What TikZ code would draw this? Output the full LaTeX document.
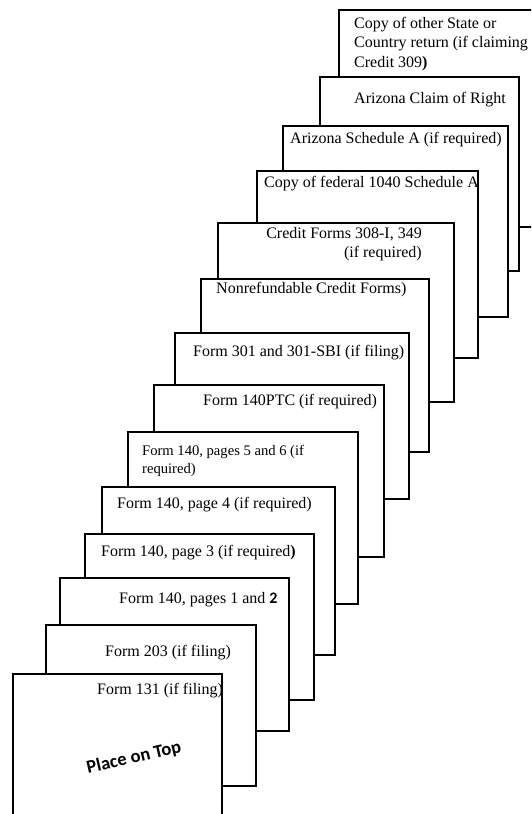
\documentclass[tikz,border=0pt]{standalone}
\usepackage{fontspec}
\setmainfont{Liberation Serif}
\newfontfamily\carlito{Carlito}
\begin{document}
\begin{tikzpicture}[x=1pt,y=-1pt,
  card/.style={draw=black,line width=1.2pt,fill=white},
  lbl/.style={inner sep=0pt,font=\fontsize{16}{19.5}\selectfont}]
\useasboundingbox (0,0) rectangle (531,814);
\clip (0,0) rectangle (531,814);
% cards from back to front
\draw[card] (339,10) rectangle (545,227);
\node[lbl,anchor=north west,align=left] (t1) at (354,17) {Copy of other State or\\Country return (if claiming\\Credit 309\textbf{)}};
\draw[card] (320,77) rectangle (519,271);
\node[lbl,anchor=west] (t2) at (354,100) {Arizona Claim of Right};
\draw[card] (283,126) rectangle (508,317);
\node[lbl,anchor=west] (t3) at (290,140) {Arizona Schedule A (if required)};
\draw[card] (257,171) rectangle (478,358);
\node[lbl,anchor=west] (t4) at (264,184) {Copy of federal 1040 Schedule A};
\draw[card] (218,223) rectangle (454,402);
\node[lbl,anchor=north east,align=right] (t5) at (422,227) {Credit Forms 308-I, 349\\(if required)};
\draw[card] (201,279) rectangle (429,452);
\node[lbl,anchor=west] (t6) at (216,290) {Nonrefundable Credit Forms)};
\draw[card] (175,333) rectangle (409,499);
\node[lbl,anchor=west] (t7) at (193,353) {Form 301 and 301-SBI (if filing)};
\draw[card] (154,385) rectangle (384,557);
\node[lbl,anchor=west] (t8) at (203,402) {Form 140PTC (if required)};
\draw[card] (128,432) rectangle (358,604);
\node[inner sep=0pt,font=\fontsize{14.6}{18}\selectfont,anchor=north west,align=left] (t9) at (142,445.5) {Form 140, pages 5 and 6 (if\\required)};
\draw[card] (102,487) rectangle (335,655);
\node[lbl,anchor=west] (t10) at (117,505) {Form 140, page 4 (if required)};
\draw[card] (85,534) rectangle (314,700);
\node[lbl,anchor=west] (t11) at (101,553) {Form 140, page 3 (if required\textbf{)}};
\draw[card] (60,578) rectangle (289,731);
\node[lbl,anchor=west] (t12) at (119,600) {Form 140, pages 1 and {\carlito\bfseries 2}};
\draw[card] (46,625) rectangle (256,786);
\node[lbl,anchor=west] (t13) at (105,653) {Form 203 (if filing)};
\draw[card] (13,674) rectangle (222,830);
\node[lbl,anchor=west] (t14) at (97,691) {Form 131 (if filing)};
\node[inner sep=0pt,font=\carlito\bfseries\fontsize{18.5}{22}\selectfont,rotate=13] (top) at (134,758) {Place on Top};
\end{tikzpicture}
\end{document}
